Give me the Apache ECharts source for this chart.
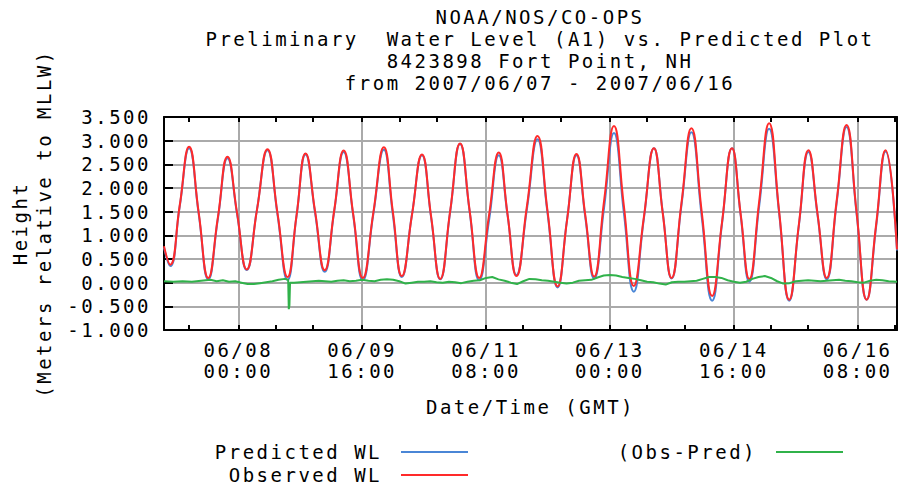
<!DOCTYPE html>
<html><head><meta charset="utf-8">
<script src="https://cdn.jsdelivr.net/npm/echarts@6/dist/echarts.min.js"></script>
<style>
html,body{margin:0;padding:0;background:#fff;}
#chart{width:899px;height:485px;}
#chart text{letter-spacing:2.5px;}
</style></head><body><div id="chart"></div>
<script>
const FONT = '"DejaVu Sans Mono", "Liberation Mono", monospace';

const titleLines = [
  'NOAA/NOS/CO-OPS',
  'Preliminary  Water Level (A1) vs. Predicted Plot',
  '8423898 Fort Point, NH',
  'from 2007/06/07 - 2007/06/16'
];
const yAxisTitle = ['Height', '(Meters relative to MLLW)'];
const xAxisTitle = 'Date/Time (GMT)';
const seriesNames = ['Predicted WL', 'Observed WL', '(Obs-Pred)'];

// hours since 2007/06/07 00:00 GMT
const xStart = 0;
const xEnd = 236.7;
const xMajorHours = [24, 64, 104, 144, 184, 224];
const xMajorLabels = ['06/08\n00:00', '06/09\n16:00', '06/11\n08:00', '06/13\n00:00', '06/14\n16:00', '06/16\n08:00'];
const xMinorHours = [8, 36, 48, 76, 88, 116, 128, 156, 168, 196, 208, 236];
const yMin = -1, yMax = 3.5, yStep = 0.5;

const tideHours = [
  0, 2.0, 5.05, 8.1, 11.2, 14.3, 17.4, 20.5, 23.6, 26.7,
  30.05, 33.4, 36.65, 39.9, 42.8, 45.7, 48.8, 51.9, 54.95, 58.0,
  61.1, 64.2, 67.6, 71.0, 73.9, 76.8, 80.05, 83.3, 86.25, 89.2,
  92.4, 95.6, 98.7, 101.8, 104.95, 108.1, 110.95, 113.8, 117.2, 120.6,
  123.85, 127.1, 130.15, 133.2, 136.05, 138.9, 142.1, 145.3, 148.5, 151.7,
  154.95, 158.2, 161.05, 163.9, 167.1, 170.3, 173.65, 177.0, 180.2, 183.4,
  186.2, 189.0, 192.2, 195.4, 198.65, 201.9, 205.0, 208.1, 211.05, 214.0,
  217.2, 220.4, 223.65, 226.9, 229.95, 233.0, 236.7
];
const observedWL = [
  0.77, 0.38, 1.62, 2.87, 1.48, 0.10, 1.38, 2.66, 1.47, 0.28,
  1.55, 2.82, 1.47, 0.12, 1.42, 2.73, 1.50, 0.26, 1.52, 2.79,
  1.45, 0.10, 1.48, 2.86, 1.50, 0.14, 1.42, 2.71, 1.40, 0.08,
  1.51, 2.94, 1.52, 0.10, 1.42, 2.75, 1.44, 0.14, 1.62, 3.10,
  1.51, -0.08, 1.32, 2.72, 1.42, 0.13, 1.72, 3.31, 1.62, -0.07,
  1.38, 2.84, 1.47, 0.10, 1.68, 3.26, 1.49, -0.28, 1.28, 2.84,
  1.46, 0.08, 1.72, 3.37, 1.50, -0.36, 1.22, 2.80, 1.45, 0.10,
  1.72, 3.33, 1.49, -0.36, 1.22, 2.80, 0.70
];
const predictedWL = [
  0.74, 0.35, 1.60, 2.84, 1.46, 0.07, 1.35, 2.63, 1.45, 0.27,
  1.56, 2.80, 1.44, 0.06, 1.41, 2.71, 1.47, 0.23, 1.50, 2.76,
  1.42, 0.05, 1.45, 2.81, 1.44, 0.12, 1.43, 2.69, 1.38, 0.07,
  1.49, 2.93, 1.50, 0.05, 1.31, 2.69, 1.42, 0.16, 1.56, 3.03,
  1.47, -0.10, 1.33, 2.69, 1.38, 0.09, 1.58, 3.16, 1.48, -0.19,
  1.35, 2.84, 1.49, 0.09, 1.64, 3.18, 1.39, -0.38, 1.25, 2.84,
  1.43, 0.02, 1.62, 3.25, 1.46, -0.38, 1.20, 2.76, 1.42, 0.07,
  1.68, 3.29, 1.46, -0.36, 1.18, 2.77, 0.68
];
const residHours = [
  0, 3, 6, 9, 12, 15, 17, 19, 21, 23,
  25, 27, 29, 31, 33, 35, 37, 39, 40.1, 40.3,
  40.5, 40.7, 42, 44, 46, 48, 50, 52, 54, 56,
  58, 60, 62, 64, 66, 68, 70, 72, 74, 76,
  78, 80, 82, 84, 86, 88, 90, 92, 94, 96,
  98, 100, 102, 104, 106, 108, 110, 112, 114, 116,
  118, 120, 122, 124, 126, 128, 130, 132, 134, 136,
  138, 140, 142, 144, 146, 148, 150, 152, 154, 156,
  158, 160, 162, 164, 166, 168, 170, 172, 174, 176,
  178, 180, 182, 184, 186, 188, 190, 192, 194, 196,
  198, 200, 202, 204, 206, 208, 210, 212, 214, 216,
  218, 220, 222, 224, 226, 228, 230, 232, 234, 236.7
];
const residValues = [
  0.03, 0.02, 0.03, 0.02, 0.04, 0.06, 0.03, 0.05, 0.02, 0.03,
  0.00, -0.03, -0.03, -0.01, 0.01, 0.03, 0.06, 0.08, 0.06, -0.56,
  -0.48, 0.00, 0.00, 0.01, 0.02, 0.03, 0.04, 0.03, 0.02, 0.04,
  0.05, 0.03, 0.04, 0.06, 0.04, 0.03, 0.06, 0.07, 0.06, 0.03,
  -0.02, 0.00, 0.02, 0.02, 0.03, 0.01, 0.00, 0.02, 0.01, -0.01,
  0.02, 0.04, 0.05, 0.10, 0.12, 0.07, 0.04, 0.00, -0.03, 0.03,
  0.08, 0.07, 0.05, 0.04, 0.02, 0.00, -0.02, 0.00, 0.04, 0.05,
  0.06, 0.11, 0.15, 0.16, 0.15, 0.12, 0.10, 0.08, 0.05, 0.02,
  0.01, -0.02, -0.04, 0.01, 0.02, 0.02, 0.03, 0.04, 0.08, 0.12,
  0.12, 0.10, 0.05, 0.02, 0.00, 0.02, 0.08, 0.12, 0.14, 0.10,
  0.03, -0.02, -0.01, 0.03, 0.04, 0.05, 0.04, 0.03, 0.04, 0.05,
  0.06, 0.04, 0.03, 0.01, 0.00, 0.04, 0.06, 0.05, 0.03, 0.02
];

const BLUE = '#4a86d6', RED = '#ff2a2a', GREEN = '#30b24a';
const zip = (xs, ys) => xs.map((x, i) => [x, ys[i]]);
const txt = (extra) => Object.assign({ fontFamily: FONT, fontSize: 19, color: '#000', fontWeight: 'normal' }, extra || {});
const blackLine = { show: true, onZero: false, lineStyle: { color: '#000', width: 2 } };
const allXTicks = xMajorHours.concat(xMinorHours);
const legendBase = {
  orient: 'horizontal', align: 'right', itemWidth: 67, itemHeight: 2, itemGap: 0,
  icon: 'rect', selectedMode: false, padding: 0, formatter: n => n + ' ',
  textStyle: txt({ lineHeight: 20 })
};

const chart = echarts.init(document.getElementById('chart'), null, { renderer: 'svg' });
chart.setOption({
  animation: false,
  backgroundColor: '#fff',
  textStyle: { fontFamily: FONT },
  title: {
    text: titleLines.join('\n'), left: 540, top: 6, textAlign: 'center', padding: 0,
    textStyle: txt({ lineHeight: 22 })
  },
  legend: [
    Object.assign({}, legendBase, { data: [seriesNames[0]], right: 431, top: 442 }),
    Object.assign({}, legendBase, { data: [seriesNames[1]], right: 431, top: 465 }),
    Object.assign({}, legendBase, { data: [seriesNames[2]], right: 56, top: 442 })
  ],
  grid: { left: 162, right: 2, top: 117, bottom: 155, containLabel: false, show: false },
  xAxis: [
    {
      type: 'value', min: xStart, max: xEnd, position: 'bottom',
      name: xAxisTitle, nameLocation: 'middle', nameGap: 67, nameTextStyle: txt(),
      axisLine: blackLine,
      axisTick: { show: true, inside: true, length: 5, customValues: allXTicks, lineStyle: { color: '#000', width: 2 } },
      axisLabel: Object.assign(txt({ lineHeight: 21 }), {
        show: true, margin: 9, customValues: xMajorHours,
        formatter: v => xMajorLabels[xMajorHours.indexOf(v)]
      }),
      splitLine: { show: false }
    },
    {
      type: 'value', min: xStart, max: xEnd, position: 'top',
      axisLine: blackLine,
      axisTick: { show: true, inside: true, length: 5, customValues: allXTicks, lineStyle: { color: '#000', width: 2 } },
      axisLabel: { show: false }, splitLine: { show: false }
    },
    {
      type: 'value', min: xStart, max: xEnd, position: 'bottom',
      axisLine: { show: false, onZero: false },
      axisTick: { show: false, customValues: xMajorHours },
      axisLabel: { show: false, customValues: xMajorHours },
      splitLine: { show: true, lineStyle: { color: '#aaaaaa', width: 2 } }
    }
  ],
  yAxis: [
    {
      type: 'value', min: yMin, max: yMax, interval: yStep, position: 'left',
      name: yAxisTitle.join('\n'), nameLocation: 'middle', nameRotate: 90, nameGap: 108,
      nameTextStyle: txt({ lineHeight: 24 }),
      axisLine: blackLine,
      axisTick: { show: true, inside: true, length: 9, lineStyle: { color: '#000', width: 2 } },
      axisLabel: Object.assign(txt(), { margin: 13, formatter: v => v.toFixed(3) }),
      splitLine: { show: true, lineStyle: { color: '#aaaaaa', width: 2 } }
    },
    {
      type: 'value', min: yMin, max: yMax, interval: yStep, position: 'right',
      axisLine: blackLine, axisTick: { show: false }, axisLabel: { show: false }, splitLine: { show: false }
    }
  ],
  series: [
    {
      name: seriesNames[0], type: 'line', xAxisIndex: 0, yAxisIndex: 0,
      data: zip(tideHours, predictedWL), smooth: 0.5, symbol: 'none',
      lineStyle: { color: BLUE, width: 2 }, itemStyle: { color: BLUE }
    },
    {
      name: seriesNames[1], type: 'line', xAxisIndex: 0, yAxisIndex: 0,
      data: zip(tideHours, observedWL), smooth: 0.5, symbol: 'none',
      lineStyle: { color: RED, width: 2 }, itemStyle: { color: RED }
    },
    {
      name: seriesNames[2], type: 'line', xAxisIndex: 0, yAxisIndex: 0,
      data: zip(residHours, residValues), smooth: false, symbol: 'none',
      lineStyle: { color: GREEN, width: 2 }, itemStyle: { color: GREEN }
    }
  ]
});
</script></body></html>
